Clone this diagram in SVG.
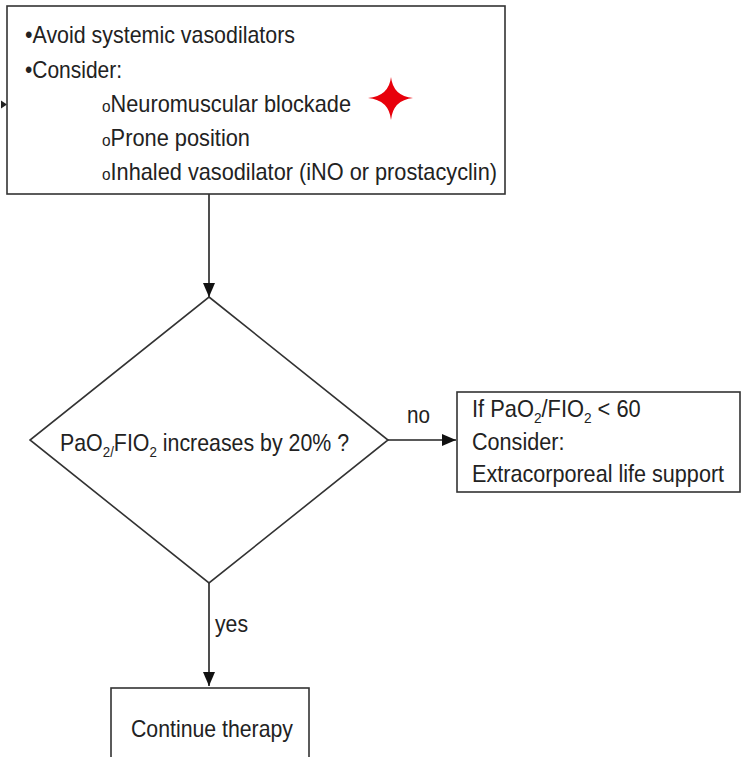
<svg xmlns="http://www.w3.org/2000/svg" width="741" height="757" viewBox="0 0 741 757">
<defs>
<style>
.box{fill:#fff;stroke:#333;stroke-width:1.6}
.t{font-family:"Liberation Sans",Arial,sans-serif;font-size:24px;fill:#222}
.sub{font-size:15px}
.conn{stroke:#222;stroke-width:1.6;fill:none}
</style>
<marker id="ah" markerUnits="userSpaceOnUse" markerWidth="14" markerHeight="14" viewBox="0 0 14 14" refX="14" refY="7" orient="auto">
<path d="M0,1 L14,7 L0,13 Z" fill="#111"/>
</marker>
</defs>
<rect width="741" height="757" fill="#fff"/>
<g id="connectors">
<line class="conn" x1="209" y1="194" x2="209" y2="297" marker-end="url(#ah)"/>
<line class="conn" x1="388" y1="440" x2="456" y2="440" marker-end="url(#ah)"/>
<line class="conn" x1="209" y1="583" x2="209" y2="686" marker-end="url(#ah)"/>
<polygon points="1,100.5 7,104.5 1,108.5" fill="#222"/>
<text class="t" x="407" y="423" textLength="23" lengthAdjust="spacingAndGlyphs">no</text>
<text class="t" x="215" y="632" textLength="33" lengthAdjust="spacingAndGlyphs">yes</text>
</g>
<g id="top-box">
<rect class="box" x="7" y="6" width="498" height="188"/>
<text class="t" x="25" y="43" textLength="270" lengthAdjust="spacingAndGlyphs">•Avoid systemic vasodilators</text>
<text class="t" x="25" y="78" textLength="97" lengthAdjust="spacingAndGlyphs">•Consider:</text>
<text class="t" x="102" y="112" textLength="249" lengthAdjust="spacingAndGlyphs"><tspan font-size="17">o</tspan>Neuromuscular blockade</text>
<text class="t" x="102" y="146" textLength="148" lengthAdjust="spacingAndGlyphs"><tspan font-size="17">o</tspan>Prone position</text>
<text class="t" x="102" y="180" textLength="395" lengthAdjust="spacingAndGlyphs"><tspan font-size="17">o</tspan>Inhaled vasodilator (iNO or prostacyclin)</text>
<path d="M391,77 Q393,96 413,98 Q393,100 391,120 Q389,100 368,98 Q389,96 391,77 Z" fill="#e8000b"/>
</g>
<g id="decision">
<polygon class="box" points="209,297 388,440 209,583 30,440"/>
<text class="t" transform="translate(60,451) scale(0.89,1)">PaO<tspan class="sub" dy="6">2/</tspan><tspan dy="-6">FIO</tspan><tspan class="sub" dy="6">2</tspan><tspan dy="-6"> increases by 20% ?</tspan></text>
</g>
<g id="ecls-box">
<rect class="box" x="457" y="392" width="283" height="100"/>
<text class="t" transform="translate(472,417) scale(0.91,1)">If PaO<tspan class="sub" dy="6">2</tspan><tspan dy="-6">/FIO</tspan><tspan class="sub" dy="6">2</tspan><tspan dy="-6"> &lt; 60</tspan></text>
<text class="t" transform="translate(472,450) scale(0.9,1)">Consider:</text>
<text class="t" transform="translate(472,482) scale(0.9,1)">Extracorporeal life support</text>
</g>
<g id="continue-box">
<rect class="box" x="111" y="688" width="198" height="80"/>
<text class="t" x="131" y="737" textLength="162" lengthAdjust="spacingAndGlyphs">Continue therapy</text>
</g>
</svg>
